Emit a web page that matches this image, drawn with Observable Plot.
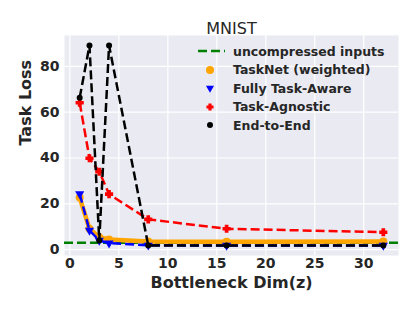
<!DOCTYPE html>
<html>
<head>
<meta charset="utf-8">
<script src="https://cdn.jsdelivr.net/npm/d3@7"></script>
<script src="https://cdn.jsdelivr.net/npm/@observablehq/plot@0.6"></script>
<style>
  html, body { margin: 0; padding: 0; background: #ffffff; }
  #wrap { position: relative; width: 415px; height: 311px; font-family: "DejaVu Sans", sans-serif; }
  #legend { position: absolute; left: 196px; top: 42px; }
  .row { display: flex; align-items: center; height: 18.5px; }
  .sym { width: 34px; height: 18px; flex: none; }
  .lab { margin-left: 3px; font-weight: bold; font-size: 12.5px; color: #262626; white-space: nowrap; }
</style>
</head>
<body>
<div id="wrap"></div>
<script>
const title = "MNIST";
const xLabel = "Bottleneck Dim(z)";
const yLabel = "Task Loss";
const dims = [1, 2, 3, 4, 8, 16, 32];
const uncompressed = 3.0;
const taskNet = [22.7, 9.1, 5.4, 4.4, 3.5, 3.4, 3.5];
const fullyAware = [24.3, 8.4, 4.0, 2.8, 1.9, 1.8, 1.8];
const agnostic = [64.1, 39.9, 34.0, 24.2, 13.2, 9.1, 7.6];
const endToEnd = [66.3, 89.1, 4.0, 89.1, 1.8, 1.8, 1.8];
const xTicks = [0, 5, 10, 15, 20, 25, 30];
const yTicks = [0, 20, 40, 60, 80];

// thick filled plus (matplotlib "P"-like marker)
const plusFilled = {
  draw(context, size) {
    const s = Math.sqrt(size) / 2, a = s * 0.45;
    context.moveTo(-a, -s); context.lineTo(a, -s); context.lineTo(a, -a); context.lineTo(s, -a);
    context.lineTo(s, a); context.lineTo(a, a); context.lineTo(a, s); context.lineTo(-a, s);
    context.lineTo(-a, a); context.lineTo(-s, a); context.lineTo(-s, -a); context.lineTo(-a, -a);
    context.closePath();
  }
};

const series = [
  {name: "TaskNet (weighted)", values: taskNet, color: "#FFA500", dash: null, width: 4.5, symbol: d3.symbolCircle, r: 4, rotate: 0, lr: 4},
  {name: "Fully Task-Aware", values: fullyAware, color: "#0000FF", dash: "9,4", width: 2.5, symbol: d3.symbolTriangle, r: 3.4, rotate: 180, lr: 3},
  {name: "Task-Agnostic", values: agnostic, color: "#FF0000", dash: "9,4", width: 2.5, symbol: plusFilled, r: 4.6, rotate: 0, lr: 4},
  {name: "End-to-End", values: endToEnd, color: "#000000", dash: "9,4", width: 2.5, symbol: d3.symbolCircle, r: 3, rotate: 0, lr: 3}
];
const rows = s => dims.map((d, i) => ({x: d, y: s.values[i]}));

const allY = series.flatMap(s => s.values).concat([uncompressed]);
const yMin = d3.min(allY), yMax = d3.max(allY);
const yPad = (yMax - yMin) * 0.05;
const xPad = (d3.max(dims) - d3.min(dims)) * 0.05;

const marks = [
  Plot.frame({fill: "#EAEAF2", stroke: null}),
  Plot.gridX(xTicks, {stroke: "#ffffff", strokeOpacity: 1, strokeWidth: 1.2}),
  Plot.gridY(yTicks, {stroke: "#ffffff", strokeOpacity: 1, strokeWidth: 1.2}),
  Plot.ruleY([uncompressed], {stroke: "#008000", strokeWidth: 2.5, strokeDasharray: "9,4"})
];
for (const s of series) {
  marks.push(Plot.line(rows(s), {x: "x", y: "y", stroke: s.color, strokeWidth: s.width,
    strokeDasharray: s.dash, strokeLinejoin: "round", strokeLinecap: s.dash ? "butt" : "round"}));
  marks.push(Plot.dot(rows(s), {x: "x", y: "y", symbol: s.symbol, fill: s.color, stroke: null,
    r: s.r, rotate: s.rotate}));
}
marks.push(
  Plot.axisX(xTicks, {tickSize: 0, tickPadding: 3, fontSize: 14, fontWeight: "bold", fill: "#262626", label: null}),
  Plot.axisY(yTicks, {tickSize: 0, tickPadding: 5, fontSize: 14, fontWeight: "bold", fill: "#262626", label: null}),
  Plot.text([title], {frameAnchor: "top", dy: -13, fontSize: 16, fill: "#262626"}),
  Plot.text([xLabel], {frameAnchor: "bottom", dy: 32, fontSize: 16, fontWeight: "bold", fill: "#262626"}),
  Plot.text([yLabel], {frameAnchor: "left", dx: -39, rotate: -90, fontSize: 16, fontWeight: "bold", fill: "#262626"})
);

const chart = Plot.plot({
  width: 415, height: 311,
  marginLeft: 64, marginRight: 17, marginTop: 35, marginBottom: 56,
  style: {background: "#ffffff", fontFamily: "DejaVu Sans, sans-serif", overflow: "visible"},
  x: {domain: [d3.min(dims) - xPad, d3.max(dims) + xPad]},
  y: {domain: [yMin - yPad, yMax + yPad]},
  marks
});
const wrap = document.getElementById("wrap");
wrap.appendChild(chart);

// legend
const legend = document.createElement("div");
legend.id = "legend";
const items = [{name: "uncompressed inputs", color: "#008000", line: true}].concat(series);
for (const it of items) {
  const row = document.createElement("div");
  row.className = "row";
  let svg;
  if (it.line) {
    svg = `<svg class="sym" viewBox="0 0 34 18"><line x1="2" x2="29" y1="9" y2="9" stroke="${it.color}" stroke-width="2.5" stroke-dasharray="9,4"/></svg>`;
  } else {
    const d = d3.symbol(it.symbol, Math.PI * it.lr * it.lr)();
    svg = `<svg class="sym" viewBox="0 0 34 18"><path transform="translate(14,9) rotate(${it.rotate})" d="${d}" fill="${it.color}"/></svg>`;
  }
  row.innerHTML = svg + `<span class="lab">${it.name}</span>`;
  legend.appendChild(row);
}
wrap.appendChild(legend);
</script>
</body>
</html>
